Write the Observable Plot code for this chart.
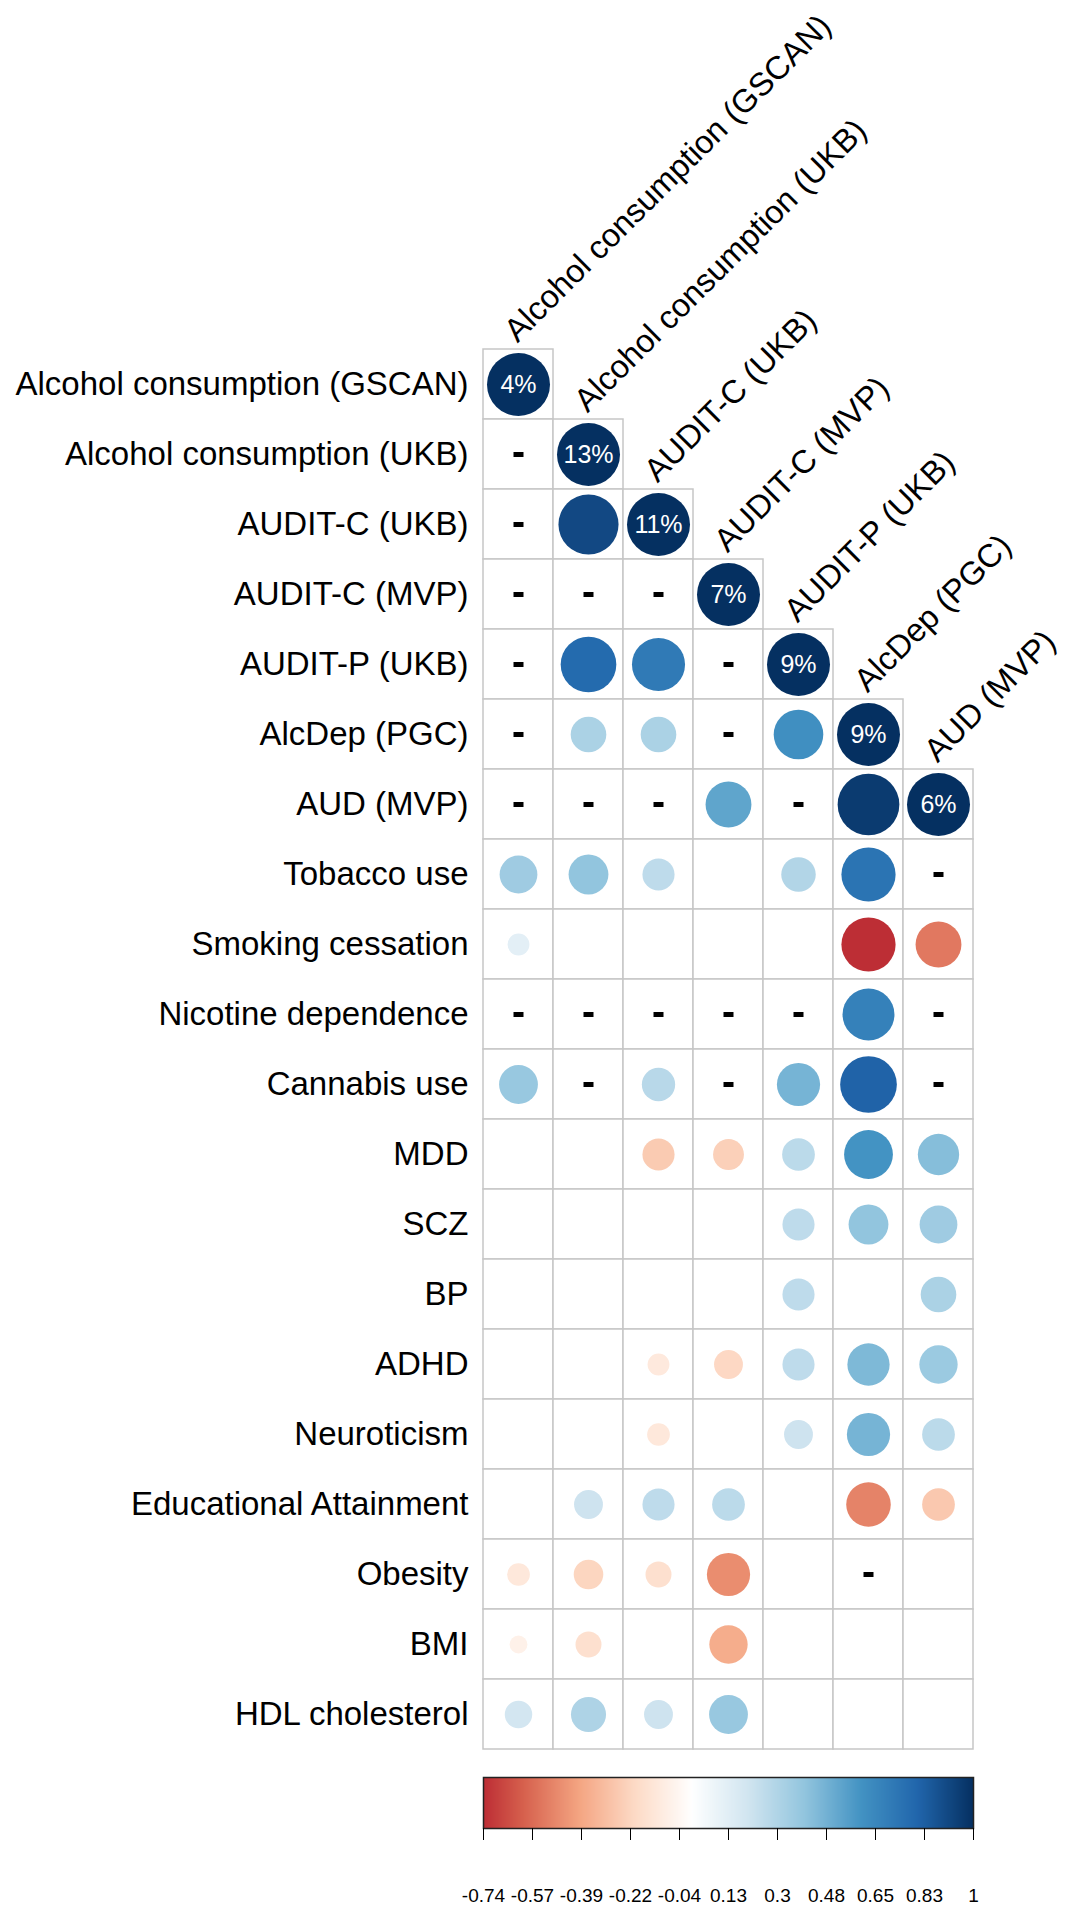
<!DOCTYPE html>
<html>
<head>
<meta charset="utf-8">
<script src="https://cdn.jsdelivr.net/npm/d3@7"></script>
<script src="https://cdn.jsdelivr.net/npm/@observablehq/plot@0.6"></script>
<style>
  html, body { margin: 0; padding: 0; background: #ffffff; }
  #chart svg { display: block; overflow: visible; }
</style>
</head>
<body>
<div id="chart"></div>
<script>
// ---------------- data ----------------
const rows = [
  "Alcohol consumption (GSCAN)",
  "Alcohol consumption (UKB)",
  "AUDIT-C (UKB)",
  "AUDIT-C (MVP)",
  "AUDIT-P (UKB)",
  "AlcDep (PGC)",
  "AUD (MVP)",
  "Tobacco use",
  "Smoking cessation",
  "Nicotine dependence",
  "Cannabis use",
  "MDD",
  "SCZ",
  "BP",
  "ADHD",
  "Neuroticism",
  "Educational Attainment",
  "Obesity",
  "BMI",
  "HDL cholesterol"
];
const cols = rows.slice(0, 7);

// SNP heritability shown on the diagonal
const heritability = ["4%", "13%", "11%", "7%", "9%", "9%", "6%"];

// genetic correlations (lower triangle); "-" = not available, null = blank
const rg = [
  [1],
  ["-", 1],
  ["-", 0.91, 1],
  ["-", "-", "-", 1],
  ["-", 0.78, 0.71, "-", 1],
  ["-", 0.32, 0.32, "-", 0.62, 1],
  ["-", "-", "-", 0.53, "-", 0.96, 1],
  [0.36, 0.40, 0.26, null, 0.30, 0.74, "-"],
  [0.12, null, null, null, null, -0.74, -0.53],
  ["-", "-", "-", "-", "-", 0.68, "-"],
  [0.38, "-", 0.28, "-", 0.47, 0.81, "-"],
  [null, null, -0.26, -0.24, 0.27, 0.60, 0.43],
  [null, null, null, null, 0.26, 0.40, 0.36],
  [null, null, null, null, 0.26, null, 0.32],
  [null, null, -0.12, -0.21, 0.26, 0.45, 0.37],
  [null, null, -0.13, null, 0.21, 0.47, 0.27],
  [null, 0.21, 0.26, 0.27, null, -0.50, -0.27],
  [-0.13, -0.22, -0.17, -0.47, null, "-", null],
  [-0.08, -0.17, null, -0.37, null, null, null],
  [0.19, 0.31, 0.21, 0.38, null, null, null]
];

// colour bar ticks and labels
const legendTicks = [-0.74, -0.566, -0.392, -0.218, -0.044, 0.13, 0.304, 0.478, 0.652, 0.826, 1];
const legendLabels = ["-0.74", "-0.57", "-0.39", "-0.22", "-0.04", "0.13", "0.3", "0.48", "0.65", "0.83", "1"];

// corrplot RdBu palette stops
const paletteStops = [-1, -0.8, -0.6, -0.4, -0.2, 0, 0.2, 0.4, 0.6, 0.8, 1];
const paletteColors = ["#67001F", "#B2182B", "#D6604D", "#F4A582", "#FDDBC7", "#FFFFFF",
                       "#D1E5F0", "#92C5DE", "#4393C3", "#2166AC", "#053061"];

// ---------------- build tables ----------------
const cells = [];
rows.forEach((r, i) => {
  cols.forEach((c, j) => {
    if (i < cols.length && j > i) return;
    cells.push({row: r, col: c, v: rg[i][j]});
  });
});
const valueCells = cells.filter(d => typeof d.v === "number");
const naCells = cells.filter(d => d.v === "-");
const diagCells = cols.map((c, j) => ({row: rows[j], col: c, h: heritability[j]}));

const dashSymbol = {
  draw(context) { context.rect(-5, -2.5, 10, 5); }
};

const font = "'Liberation Sans', Arial, Helvetica, sans-serif";

const main = Plot.plot({
  width: 1073,
  height: 1760,
  marginLeft: 483,
  marginRight: 100,
  marginTop: 348,
  marginBottom: 10,
  style: {fontFamily: font, background: "#ffffff", color: "#000000"},
  x: {domain: cols, padding: 0, axis: null},
  y: {domain: rows, padding: 0, label: null},
  r: {type: "sqrt", domain: [0, 1], range: [0, 31.5]},
  color: {type: "linear", domain: paletteStops, range: paletteColors},
  marks: [
    Plot.cell(cells, {x: "col", y: "row", fill: "#ffffff", stroke: "#c6c6c6", strokeWidth: 1.5}),
    Plot.dot(valueCells, {x: "col", y: "row", r: d => Math.abs(d.v), fill: "v", stroke: "none"}),
    Plot.dot(naCells, {x: "col", y: "row", symbol: dashSymbol, r: 5, fill: "#000000", stroke: "none"}),
    Plot.text(diagCells, {x: "col", y: "row", text: "h", fill: "#ffffff", fontSize: 25}),
    Plot.text(diagCells, {
      x: "col", y: "row", text: "col", rotate: -45, textAnchor: "start", lineAnchor: "bottom",
      dx: -1, dy: -41, fontSize: 32.5, fill: "#000000"
    }),
    Plot.axisY({tickSize: 0, tickPadding: 15, fontSize: 33, label: null})
  ]
});

const bar = Plot.plot({
  width: 1073,
  height: 154,
  marginLeft: 483,
  marginRight: 100,
  marginTop: 17,
  marginBottom: 86,
  style: {fontFamily: font, background: "#ffffff", color: "#000000"},
  x: {type: "linear", domain: [-0.74, 1]},
  y: {domain: [0, 1], axis: null},
  color: {type: "linear", domain: paletteStops, range: paletteColors},
  marks: [
    Plot.raster({fill: (x, y) => x, x1: -0.74, x2: 1, y1: 0, y2: 1, width: 490, height: 2, imageRendering: "auto"}),
    Plot.frame({stroke: "#222222", strokeWidth: 1.5}),
    Plot.axisX({
      ticks: legendTicks,
      tickFormat: d => legendLabels[legendTicks.indexOf(d)],
      tickSize: 12, tickPadding: 48, fontSize: 19, label: null, stroke: "#000000"
    })
  ]
});

document.getElementById("chart").append(main, bar);
</script>
</body>
</html>
